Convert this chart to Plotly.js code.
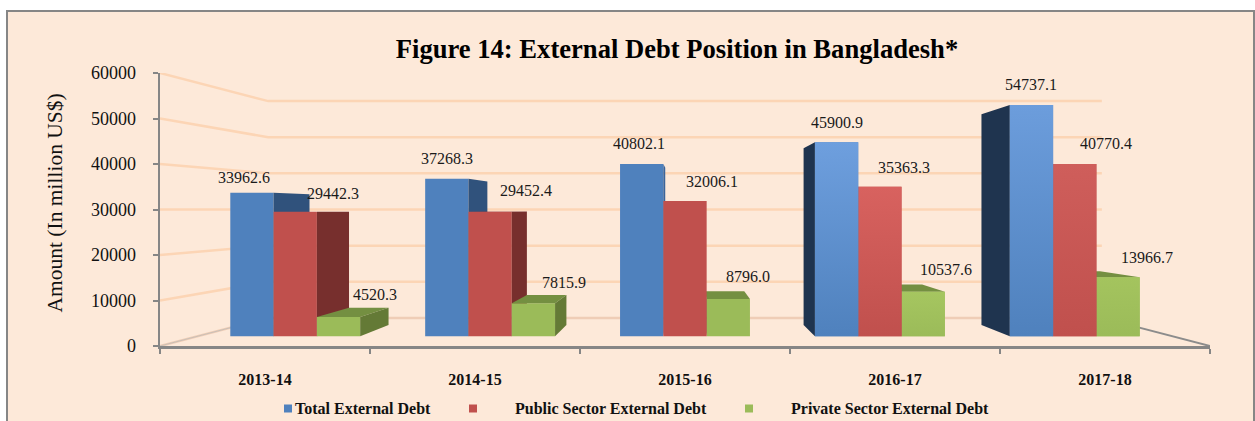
<!DOCTYPE html>
<html><head><meta charset="utf-8">
<script src="https://cdn.plot.ly/plotly-3.0.1.min.js"></script>
<style>html,body{margin:0;padding:0;background:#fff;overflow:hidden}#c{width:1255px;height:421px}</style>
</head><body><div id="c"></div>
<script>
// ---- data ----
const categories = ['2013-14','2014-15','2015-16','2016-17','2017-18'];
const totalDebt   = [33962.6,37268.3,40802.1,45900.9,54737.1];
const publicDebt  = [29442.3,29452.4,32006.1,35363.3,40770.4];
const privateDebt = [4520.3,7815.9,8796.0,10537.6,13966.7];
const seriesNames = ['Total External Debt','Public Sector External Debt','Private Sector External Debt'];
const gridValues  = [0,10000,20000,30000,40000,50000,60000];

// ---- styles ----
const SERIF = '"Liberation Serif","Times New Roman",serif';
const front = ['#4F81BD','#C0504D','#9BBB59'];
// gradient start per series for the last two groups
const frontTop = {3:['#6E9FDE','#D8625F','#A6C660'],4:['#6C9DDC','#CF5E5B','#A4C45E']};
const frontBottom = ['#4F81BD','#C0504D','#9BBB59'];
const topFace = ['#3A6290','#8E3A38','#748F41'];
const sideFace = [['#30527C','#30527C','#3B659A','#1F344F','#1F344F'],
                  ['#772F2D','#772F2D','#772F2D','#772F2D','#772F2D'],
                  ['#647A36','#647A36','#647A36','#647A36','#647A36']];
const gradientGroups = [3,4];
// label offset from the bar's top-centre, px
const labelDx = [[-8,0,-3,0,0],[38,36,27,24,31],[36,31,20,23,29]];
const labelDy = [[15,20,20,20,21],[18,21,20,19,21],[23,21,23,22,20]];

// ---- perspective: depth scale s shrinks every point toward the vanishing point ----
const VX = 2.5, VY = 30000;
const sFront = 0.928, sBack = 0.847, sWall = 0.794;
const BW = 0.2222;
const px = (x,s)=>VX+(x-VX)*s;
const py = (y,s)=>VY+(y-VY)*s;
const poly = pts=>({x:pts.map(p=>px(p[0],p[1])).concat(px(pts[0][0],pts[0][1])),
                    y:pts.map(p=>py(p[2],p[1])).concat(py(pts[0][2],pts[0][1]))});

const L = 160, R = 1210, T = 73, B = 346;
const fx = v=>(v-L)/(R-L), fy = v=>(B-v)/(B-T);
const suffix = ['','2','3','4'];
const values = [totalDebt,publicDebt,privateDebt];
const traces = [];

// gridlines: side wall then back wall
gridValues.forEach(v=>{
  traces.push({type:'scatter',mode:'lines',x:[0,px(0,sWall),px(5,sWall)],y:[v,py(v,sWall),py(v,sWall)],
    line:{color:v===0?'#EFCDB6':'#FCD5B5',width:2.5},cliponaxis:false,hoverinfo:'skip',showlegend:false});
});
// floor edges
traces.push({type:'scatter',mode:'lines',x:[px(5,sWall),5],y:[py(0,sWall),0],line:{color:'#8C8C8C',width:2},cliponaxis:false,hoverinfo:'skip',showlegend:false});
traces.push({type:'scatter',mode:'lines',x:[0,px(0,sWall)],y:[0,py(0,sWall)],line:{color:'#C9BFB6',width:1},cliponaxis:false,hoverinfo:'skip',showlegend:false});

const annotations = [];
categories.forEach((cat,g)=>{
  const centers = [0,1,2].map(j=>g+0.5+(j-1)*BW);
  const order = [0,1,2].sort((a,b)=>Math.abs(centers[b]-VX)-Math.abs(centers[a]-VX)||a-b);
  order.forEach((j,rank)=>{
    const ax = {xaxis:'x'+suffix[rank+1],yaxis:'y'+suffix[rank+1]};
    const v = values[j][g], c = centers[j], a = c-BW/2, b = c+BW/2;
    const face = (pts,color)=>traces.push(Object.assign({type:'scatter',mode:'none',fill:'toself',fillcolor:color,hoverinfo:'skip',showlegend:false},poly(pts),ax));
    if (v < VY) face([[a,sFront,v],[b,sFront,v],[b,sBack,v],[a,sBack,v]],topFace[j]);
    if (b < VX) face([[b,sFront,0],[b,sFront,v],[b,sBack,v],[b,sBack,0]],sideFace[j][g]);
    if (a > VX) face([[a,sFront,0],[a,sFront,v],[a,sBack,v],[a,sBack,0]],sideFace[j][g]);
    traces.push(Object.assign({type:'bar',name:seriesNames[j],x:[px(c,sFront)],y:[py(v,sFront)-py(0,sFront)],base:[py(0,sFront)],
      width:[BW*sFront],marker:{color:front[j],line:{width:0}},showlegend:false,hovertemplate:cat+': '+v.toFixed(1)+'<extra>'+seriesNames[j]+'</extra>'},ax));
    if (gradientGroups.includes(g)) {
      traces.push(Object.assign({type:'scatter',mode:'none',fill:'toself',hoverinfo:'skip',showlegend:false,
        fillgradient:{type:'vertical',colorscale:[[0,frontBottom[j]],[1,frontTop[g][j]]]}},
        poly([[a,sFront,0],[b,sFront,0],[b,sFront,v],[a,sFront,v]]),ax));
    }
    annotations.push({xref:'x',yref:'y',x:px(c,sFront),y:py(v,sFront),text:v.toFixed(1),showarrow:false,
      xshift:labelDx[j][g],yshift:labelDy[j][g],xanchor:'center',yanchor:'middle',font:{family:SERIF,size:16,color:'#1a1a1a'}});
  });
});

// legend (Excel-style uneven spacing)
const legendX = [284,469,745], legendTextX = [295,515,791];
const shapes = [{type:'rect',xref:'paper',yref:'paper',x0:fx(7),x1:fx(1254),y0:fy(440),y1:fy(11),layer:'below',
  fillcolor:'#FDE9D9',line:{color:'#868686',width:2}}];
legendX.forEach((x,j)=>{
  shapes.push({type:'rect',xref:'paper',yref:'paper',x0:fx(x),x1:fx(x+8),y0:fy(412.5),y1:fy(404.5),fillcolor:front[j],line:{width:0}});
  annotations.push({xref:'paper',yref:'paper',x:fx(legendTextX[j]),y:fy(408.5),xanchor:'left',yanchor:'middle',showarrow:false,
    text:seriesNames[j],font:{family:SERIF,size:16,color:'#111',weight:700},borderpad:0,borderwidth:0});
});
// axis title placed where the reference has it
annotations.push({xref:'paper',yref:'paper',x:fx(54),y:fy(203.5),textangle:-90,showarrow:false,xanchor:'center',yanchor:'middle',
  text:'Amount (In million US$)',font:{family:SERIF,size:21.5,color:'#111'}});

const layout = {
  width:1255,height:421,margin:{l:L,r:1255-R,t:T,b:421-B,pad:0},
  paper_bgcolor:'#fff',plot_bgcolor:'rgba(0,0,0,0)',showlegend:false,barmode:'overlay',
  font:{family:SERIF,color:'#111'},
  title:{text:'Figure 14: External Debt Position in Bangladesh*',x:677/1255,xanchor:'center',y:1-49/421,yanchor:'middle',yref:'container',
    font:{family:SERIF,size:26.6,color:'#000',weight:700}},
  xaxis:{range:[0,5],tickmode:'array',tickvals:[0.5,1.5,2.5,3.5,4.5],ticktext:categories,ticks:'',showgrid:false,zeroline:false,
    showline:true,linecolor:'#868686',linewidth:2.5,ticklabelstandoff:17,tickfont:{family:SERIF,size:16,color:'#111',weight:700},
    minor:{tickmode:'array',tickvals:[0,1,2,3,4,5],ticks:'outside',ticklen:5,tickwidth:2,tickcolor:'#868686',showgrid:false}},
  yaxis:{range:[0,60000],tickmode:'array',tickvals:gridValues,ticktext:gridValues.map(String),ticks:'outside',ticklen:5,tickwidth:2,tickcolor:'#868686',showgrid:false,zeroline:false,
    showline:true,linecolor:'#868686',linewidth:2.5,ticklabelstandoff:13,tickfont:{family:SERIF,size:18,color:'#111'}},
  shapes,annotations
};
[2,3,4].forEach(n=>{
  layout['xaxis'+n]={range:[0,5],overlaying:'x',anchor:'y'+n,visible:false};
  layout['yaxis'+n]={range:[0,60000],overlaying:'y',anchor:'x'+n,visible:false};
});
Plotly.newPlot('c',traces,layout,{displayModeBar:false,staticPlot:true});
</script></body></html>
